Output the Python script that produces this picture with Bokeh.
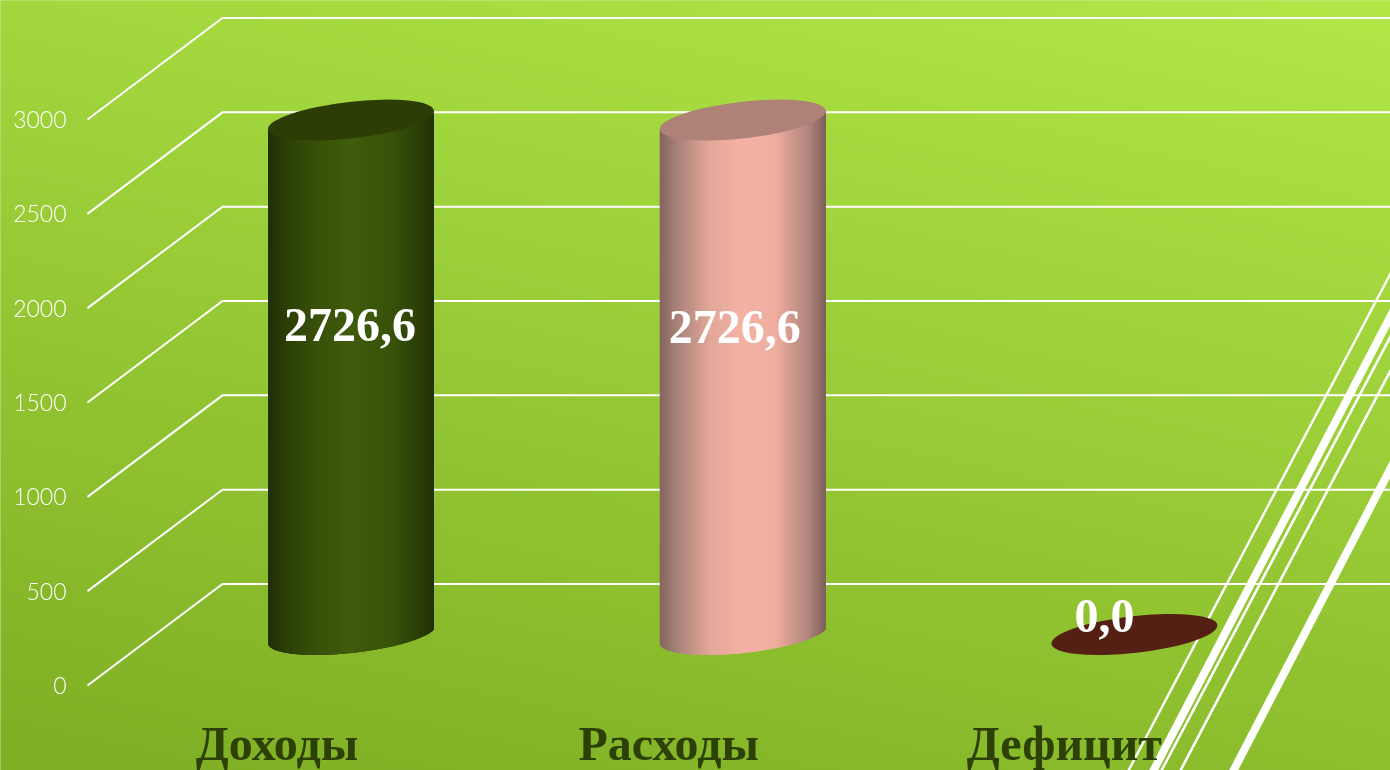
import numpy as np
from bokeh.embed import file_html
from bokeh.models import (ColumnDataSource, FixedTicker, LinearAxis, Range1d)
from bokeh.plotting import figure
from bokeh.resources import INLINE

# ---- chart data ----
categories = ["Доходы", "Расходы", "Дефицит"]
values = [2726.6, 2726.6, 0.0]
value_labels = ["2726,6", "2726,6", "0,0"]
y_ticks = [0, 500, 1000, 1500, 2000, 2500, 3000]
category_ticks = [0, 1, 2.01]

# ---- geometry of the pseudo 3D projection (page pixels) ----
W, H = 1390, 770
PX_PER_VALUE = 566.0 / 3000.0
ZERO_Y = 685.0
CENTER0, STEP = 350.5, 391.7
BAR_SHIFT_X, BAR_SHIFT_Y = 74.0, 51.0
WALL_X0, WALL_X1 = 87.0, 222.0
WALL_RISE = 101.5

def value_at_px(py):
    return (ZERO_Y - py) / PX_PER_VALUE

x_range = Range1d(-CENTER0 / STEP, (W - CENTER0) / STEP)
y_range = Range1d(value_at_px(H), value_at_px(0))

p = figure(width=W, height=H, output_backend="svg", toolbar_location=None,
           x_range=x_range, y_range=y_range, min_border=0, x_axis_type=None, y_axis_type=None,
           background_fill_color="#9ccb3a", border_fill_color="#9ccb3a",
           styles={"position": "fixed", "left": "0px", "top": "0px"})
p.outline_line_color = None
p.grid.visible = False
p.extra_x_ranges = {
    "px": Range1d(0, W),
    "front": Range1d((0 - CENTER0 + BAR_SHIFT_X) / STEP, (W - CENTER0 + BAR_SHIFT_X) / STEP),
}
p.extra_y_ranges = {"px": Range1d(H, 0)}

# ---- background gradient ----
gh, gw = 193, 348
yy, xx = np.mgrid[0:gh, 0:gw]
t = np.clip((yy / (gh - 1)) * 0.72 + (1 - xx / (gw - 1)) * 0.28, 0, 1)
top = np.array([0xB2, 0xE8, 0x48])
bot = np.array([0x7E, 0xAE, 0x24])
rgb = (top[None, None, :] * (1 - t[..., None]) + bot[None, None, :] * t[..., None]).astype(np.uint32)
img = (255 << 24) | (rgb[..., 2] << 16) | (rgb[..., 1] << 8) | rgb[..., 0]
BLEED = 6
p.image_rgba(image=[img[::-1].astype(np.uint32)], x=-BLEED, y=value_at_px(H + BLEED),
             dw=W + 2 * BLEED, dh=(H + 2 * BLEED) / PX_PER_VALUE,
             x_range_name="px", level="image")

# ---- decorative diagonal lines: each crosses the bottom edge and the right edge ----
bottom_x = np.array([1128.0, 1153.0, 1161.0, 1180.0, 1233.0])
right_y = np.array([273.0, 316.0, 336.0, 370.0, 468.0])
run = (W - bottom_x) / (H - right_y)  # x change per pixel of height
OVER = 30.0
p.segment(x0=bottom_x - OVER * run, y0=[H + OVER] * 5,
          x1=W + OVER * run, y1=right_y - OVER,
          line_width=[2.4, 8, 2.6, 2.6, 8], line_color="white",
          x_range_name="px", y_range_name="px")

# ---- gridlines: side wall + back wall ----
wall_value = WALL_RISE / PX_PER_VALUE
p.multi_line(xs=[[WALL_X0, WALL_X1, W + 10] for _ in y_ticks],
             ys=[[v, v + wall_value, v + wall_value] for v in y_ticks],
             line_color="white", line_width=2, x_range_name="px", line_join="miter")

# ---- cylinders ----
SEMI_X = 83.0
SEMI_Y = 18.4
SLOPE = 0.108
ELL_W, ELL_H, ELL_ANGLE = 167.0, 36.6, np.deg2rad(6.5)
shift_value = BAR_SHIFT_Y / PX_PER_VALUE

def ramp(stops, n):
    pos = [s[0] for s in stops]
    cols = np.array([s[1] for s in stops], dtype=float)
    u = np.linspace(0, 1, n)
    arr = np.stack([np.interp(u, pos, cols[:, k]) for k in range(3)], axis=1).astype(int)
    return ["#%02x%02x%02x" % tuple(c) for c in arr]

body_stops = [
    [(0, (0x20, 0x2E, 0x04)), (0.1, (0x2B, 0x3E, 0x06)), (0.3, (0x38, 0x52, 0x09)),
     (0.5, (0x40, 0x5C, 0x0C)), (0.75, (0x38, 0x52, 0x09)), (0.92, (0x2B, 0x3E, 0x06)), (1, (0x22, 0x30, 0x04))],
    [(0, (0x86, 0x66, 0x60)), (0.1, (0xA8, 0x82, 0x78)), (0.3, (0xE2, 0xA8, 0x9A)),
     (0.5, (0xF4, 0xB2, 0xA5)), (0.7, (0xEE, 0xAE, 0xA0)), (0.9, (0xB0, 0x86, 0x7C)), (1, (0x80, 0x60, 0x5C))],
    [(0, (0x55, 0x20, 0x14)), (1, (0x55, 0x20, 0x14))],
]
cap_colors = ["#2c3e06", "#ae8276", "#552014"]

n_strips = int(2 * SEMI_X)
lefts = -SEMI_X + np.arange(n_strips)
rights = np.minimum(lefts + 3.0, SEMI_X)
mids = lefts + 0.5
for i, (val, stops, cap) in enumerate(zip(values, body_stops, cap_colors)):
    base = shift_value  # the cylinder stands half way up the side wall
    if val > 0:
        root = np.sqrt(np.clip(1 - (mids / SEMI_X) ** 2, 0, 1))
        lower = (SLOPE * mids - SEMI_Y * root) / PX_PER_VALUE
        chord = SLOPE * mids / PX_PER_VALUE
        p.quad(left=i + lefts / STEP, right=i + rights / STEP,
               bottom=base + lower, top=base + val + chord,
               fill_color=ramp(stops, n_strips), line_color=None)
    p.ellipse(x=[i], y=[base + val], width=ELL_W, height=ELL_H, angle=ELL_ANGLE,
              width_units="screen", height_units="screen", fill_color=cap, line_color=None)

# ---- value labels ----
src = ColumnDataSource(dict(
    x=list(range(len(values))),
    y=[shift_value + v / 2 for v in values],
    text=value_labels,
    dx=[-1, -8, -30],
    dy=[-52, -50, -19],
))
p.text(x="x", y="y", text="text", source=src, x_offset="dx", y_offset="dy",
       text_font={"value": "Liberation Serif"}, text_font_style="bold",
       text_font_size={"value": "48px"}, text_color="white",
       text_align="center", text_baseline="middle")

# ---- axes ----
yax = LinearAxis(ticker=FixedTicker(ticks=y_ticks), x_range_name="px",
                 axis_line_color=None, major_tick_line_color=None, minor_tick_line_color=None,
                 major_label_text_font='"Lato Light", Lato', major_label_text_color="white",
                 major_label_text_font_size="23px", major_label_standoff=0,
                 fixed_location=72)
p.add_layout(yax, "left")

xax = LinearAxis(ticker=FixedTicker(ticks=category_ticks), x_range_name="front",
                 major_label_overrides=dict(zip(category_ticks, categories)),
                 axis_line_color=None, major_tick_line_color=None, minor_tick_line_color=None,
                 major_label_text_font="Liberation Serif", major_label_text_font_style="bold",
                 major_label_text_color="#2d4106", major_label_text_font_size="48px",
                 major_label_standoff=0, fixed_location=value_at_px(710))
p.add_layout(xax, "below")

open("out.html", "w").write(file_html(p, INLINE))
